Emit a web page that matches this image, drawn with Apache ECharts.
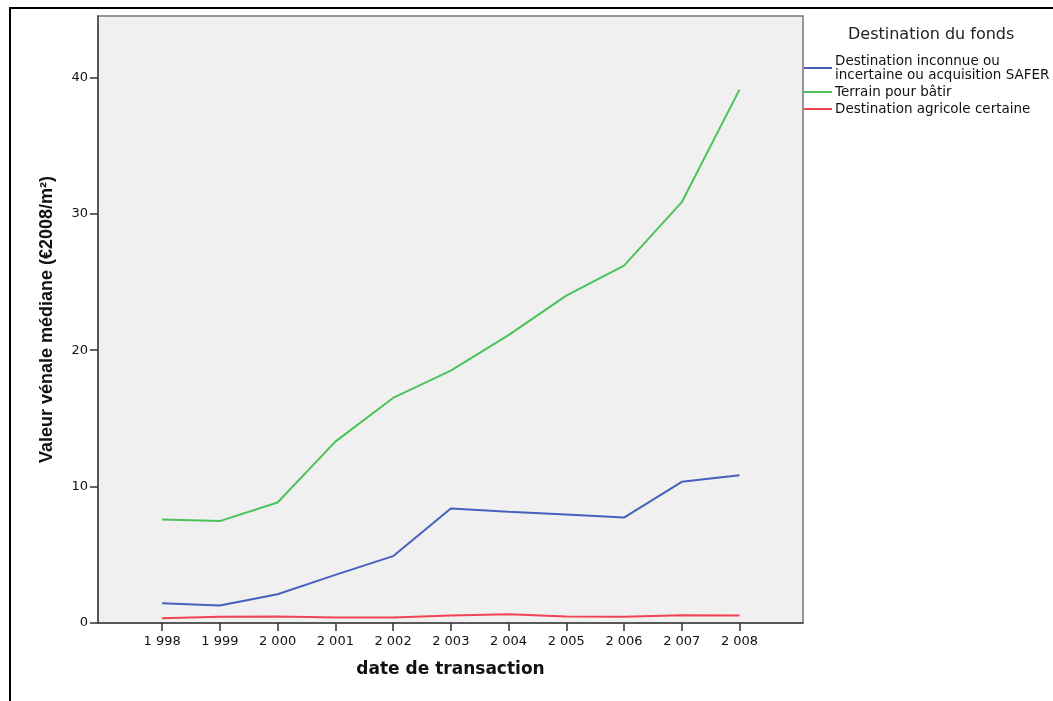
<!DOCTYPE html>
<html>
<head>
<meta charset="utf-8">
<script src="https://cdn.jsdelivr.net/npm/echarts@6/dist/echarts.min.js"></script>
<style>html,body{margin:0;padding:0;background:#fff}#c{width:1053px;height:701px}</style>
</head>
<body>
<div id="c"></div>
<script>
const years = [1998, 1999, 2000, 2001, 2002, 2003, 2004, 2005, 2006, 2007, 2008];
const yTicks = [0, 10, 20, 30, 40];
const seriesNames = ['Destination inconnue ou\nincertaine ou acquisition SAFER', 'Terrain pour bâtir', 'Destination agricole certaine'];
const inconnue = [1.45, 1.28, 2.11, 3.53, 4.9, 8.39, 8.15, 7.95, 7.73, 10.35, 10.84];
const batir = [7.59, 7.47, 8.83, 13.3, 16.5, 18.5, 21.1, 24.0, 26.2, 30.85, 39.1];
const agricole = [0.35, 0.45, 0.48, 0.4, 0.4, 0.55, 0.65, 0.48, 0.45, 0.57, 0.55];
const colors = ['#4660bc', '#4cc35a', '#f04452'];

const chart = echarts.init(document.getElementById('c'));
const wide = '"DejaVu Sans", Verdana, sans-serif';
const arial = '"Liberation Sans", Arial, sans-serif';
function mk(name, vals, col) {
  return {
    name: name, type: 'line', symbol: 'none', smooth: false,
    data: years.map((y, i) => [y, vals[i]]),
    lineStyle: { color: col, width: 2 }, itemStyle: { color: col }
  };
}
chart.setOption({
  animation: false,
  textStyle: { fontFamily: wide },
  graphic: [{
    type: 'rect', shape: { x: 10, y: 8, width: 1100, height: 800 },
    style: { fill: 'none', stroke: '#000', lineWidth: 2 }, silent: true, z: -1
  }],
  title: {
    text: 'Destination du fonds', left: 843, top: 22,
    textStyle: { fontSize: 16, fontWeight: 'normal', color: '#222', fontFamily: wide }
  },
  legend: {
    orient: 'vertical', left: 799, top: 49, itemGap: 3,
    itemWidth: 28, itemHeight: 2, icon: 'rect',
    textStyle: { fontSize: 13.5, color: '#111', lineHeight: 14, padding: [0, 0, 0, -2], fontFamily: wide },
    data: seriesNames
  },
  grid: {
    left: 98, top: 16, right: 250, bottom: 78, show: true,
    backgroundColor: '#f0f0f0', borderColor: '#777', borderWidth: 1.5
  },
  xAxis: {
    type: 'value', min: 1996.89, max: 2009.1,
    name: 'date de transaction', nameLocation: 'middle', nameGap: 38,
    nameTextStyle: { fontSize: 17, fontWeight: 'bold', color: '#111', fontFamily: wide },
    axisLine: { lineStyle: { color: '#444', width: 1.5 } },
    axisTick: { show: true, length: 8, lineStyle: { color: '#333', width: 1.5 }, customValues: years },
    axisLabel: {
      fontSize: 13, color: '#111', margin: 12, customValues: years, fontFamily: wide,
      formatter: v => { const s = String(Math.round(v)); return s[0] + ' ' + s.slice(1); }
    },
    splitLine: { show: false }
  },
  yAxis: {
    type: 'value', min: 0, max: 44.5,
    name: 'Valeur vénale médiane (€2008/m²)', nameLocation: 'middle', nameGap: 42,
    nameTextStyle: { fontSize: 18, fontWeight: 'bold', color: '#111', fontFamily: arial },
    axisLine: { show: true, lineStyle: { color: '#444', width: 1.5 } },
    axisTick: { show: true, length: 8, lineStyle: { color: '#333', width: 1.5 }, customValues: yTicks },
    axisLabel: { fontSize: 13, color: '#111', margin: 10, customValues: yTicks, fontFamily: wide },
    splitLine: { show: false }
  },
  series: [
    mk(seriesNames[0], inconnue, colors[0]),
    mk(seriesNames[1], batir, colors[1]),
    mk(seriesNames[2], agricole, colors[2])
  ]
});
</script>
</body>
</html>
